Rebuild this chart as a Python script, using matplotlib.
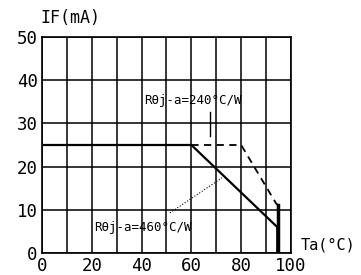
import matplotlib
matplotlib.use('Agg')
import matplotlib.pyplot as plt

# derating curves, IF (mA) vs Ta (°C)
ta_solid = [0, 60, 94.5, 94.5]
if_solid = [25, 25, 6, 0]
ta_dash = [60, 80, 94, 94.8]
if_dash = [25, 25, 11.5, 11]
xticks = [0, 20, 40, 60, 80, 100]
yticks = [0, 10, 20, 30, 40, 50]
label_240 = 'Rθj-a=240°C/W'
label_460 = 'Rθj-a=460°C/W'

plt.rcParams['font.family'] = ['DejaVu Sans Mono']

fig = plt.figure(figsize=(3.61, 2.75), dpi=100)
ax = fig.add_axes([0.1163, 0.08, 0.6897, 0.7855])

ax.set_xlim(0, 100)
ax.set_ylim(0, 50)
ax.set_xticks(range(0, 101, 10))
ax.set_yticks(yticks)
ax.grid(True, color='black', linewidth=1.1)
ax.set_xticklabels([str(v) if v in xticks else '' for v in range(0, 101, 10)])
ax.tick_params(length=0, labelsize=12.5, pad=3)
for s in ax.spines.values():
    s.set_linewidth(1.2)

ax.plot(ta_solid, if_solid, color='black', linewidth=1.6)
ax.plot(ta_dash, if_dash, color='black', linewidth=1.3, dashes=(4, 3))
ax.plot([94.8, 94.8], [11, 0], color='black', linewidth=2.5)

# annotations
ax.text(41, 35.4, label_240, fontsize=9, va='center', ha='left')
ax.plot([67.5, 67.5], [32.6, 27], color='black', linewidth=1)
ax.text(21, 6, label_460, fontsize=9, va='center', ha='left')
ax.plot([51.4, 72.3], [9.3, 17.4], color='black', linewidth=0.8, linestyle=':')

fig.text(40 / 361, 1 - 18 / 275, 'IF(mA)', fontsize=12, va='center', ha='left')
fig.text(301 / 361, 1 - 245 / 275, 'Ta(°C)', fontsize=11, va='center', ha='left')

fig.savefig('out.png', dpi=100)
